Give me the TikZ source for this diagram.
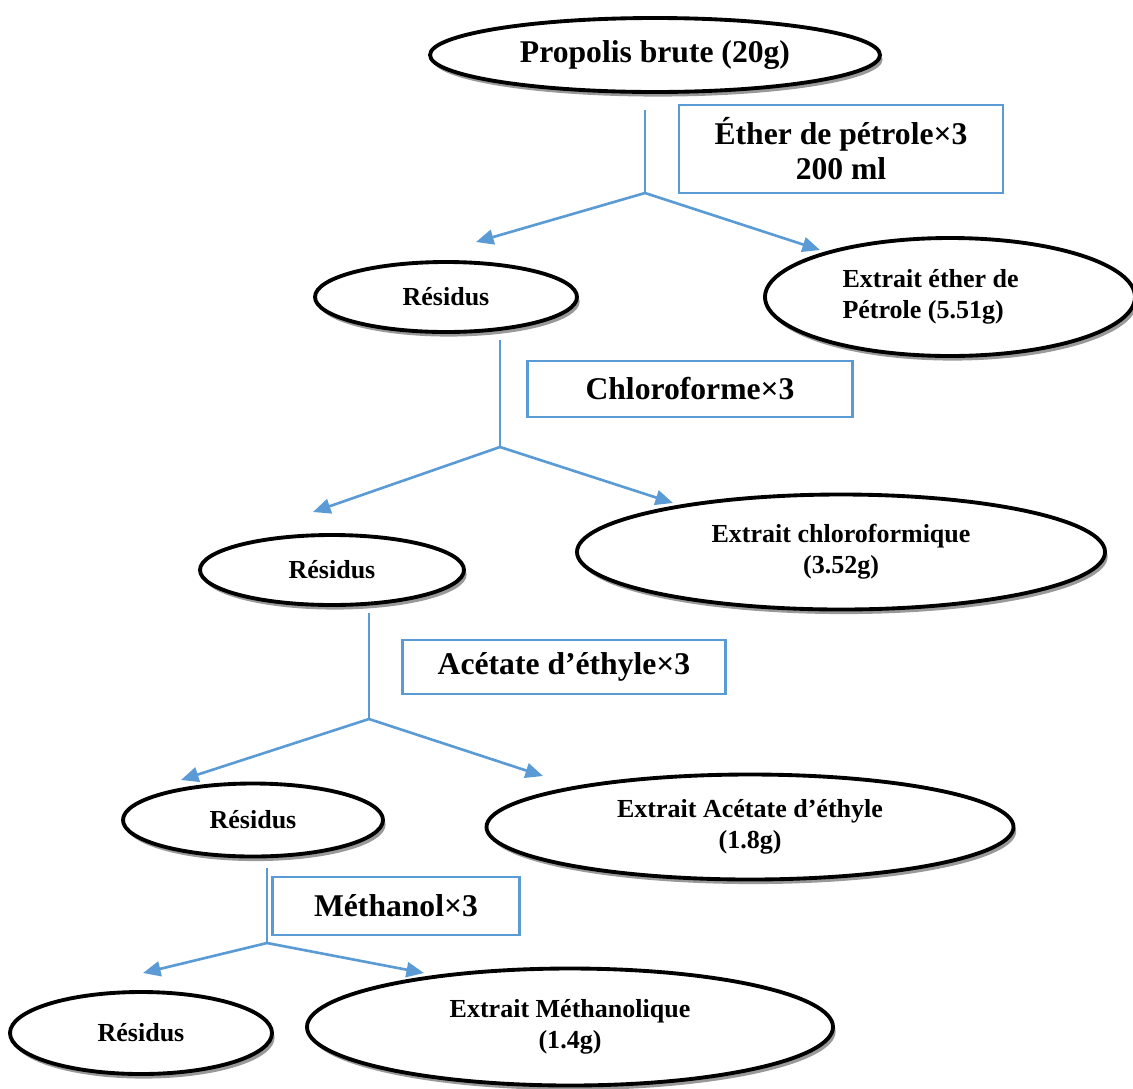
\documentclass[tikz,border=0pt]{standalone}
\usepackage{fontspec}
\setmainfont{Liberation Serif}
\usetikzlibrary{shapes.geometric,shadows,arrows.meta}
\definecolor{flowblue}{RGB}{91,155,213}
\begin{document}
\begin{tikzpicture}[
  ell/.style={ellipse,draw,line width=2.2pt,fill=white,inner sep=0pt,align=center,
    font=\fontsize{14.8}{17.6}\selectfont\bfseries,
    drop shadow={shadow xshift=1.5pt,shadow yshift=-2.6pt,fill=black!40,opacity=1}},
  solv/.style={rectangle,draw=flowblue,line width=1.4pt,inner sep=0pt,align=center,
    font=\fontsize{18}{20}\selectfont\bfseries},
  flow/.style={draw=flowblue,line width=1.5pt,-{Triangle[length=10pt,width=8.5pt]}},
  stem/.style={draw=flowblue,line width=0.6pt}]
\useasboundingbox (0,0) rectangle (22.66,-21.76);
% extraits et residus
\node[ell,minimum width=9cm,minimum height=1.48cm,font=\fontsize{18}{20}\selectfont\bfseries] (p0) at (13.1,-1.1) {Propolis brute (20g)};
\node[ell,minimum width=5.24cm,minimum height=1.4cm] (r1) at (8.92,-5.94) {Résidus};
\node[ell,minimum width=7.4cm,minimum height=2.36cm,text width=4.3cm,align=flush left] (e1) at (19.0,-5.94) {Extrait éther de\\Pétrole (5.51g)};
\node[ell,minimum width=5.28cm,minimum height=1.4cm] (r2) at (6.64,-11.4) {Résidus};
\node[ell,minimum width=10.56cm,minimum height=2.3cm] (e2) at (16.82,-11.04) {Extrait chloroformique\\(3.52g)};
\node[ell,minimum width=5.2cm,minimum height=1.46cm] (r3) at (5.06,-16.4) {Résidus};
\node[ell,minimum width=10.54cm,minimum height=2.1cm] (e3) at (15.0,-16.54) {Extrait Acétate d’éthyle\\(1.8g)};
\node[ell,minimum width=5.24cm,minimum height=1.64cm] (r4) at (2.82,-20.66) {Résidus};
\node[ell,minimum width=10.52cm,minimum height=2.34cm] (e4) at (11.4,-20.54) {Extrait Méthanolique\\(1.4g)};
% solvants
\node[solv,minimum width=6.48cm,minimum height=1.76cm] (b1) at (16.82,-2.98) {Éther de pétrole×3\\200 ml};
\node[solv,minimum width=6.5cm,minimum height=1.12cm] (b2) at (13.8,-7.78) {Chloroforme×3};
\node[solv,minimum width=6.46cm,minimum height=1.08cm] (b3) at (11.28,-13.34) {Acétate d’éthyle×3};
\node[solv,minimum width=4.94cm,minimum height=1.16cm] (b4) at (7.92,-18.12) {Méthanol×3};
% branches
\coordinate (t1) at (12.9,-2.2);
\coordinate (s1) at (12.9,-3.86);
\coordinate (a1) at (9.52,-4.84);
\coordinate (a2) at (16.4,-5.0);
\coordinate (t2) at (10.0,-6.8);
\coordinate (s2) at (10.0,-8.94);
\coordinate (a3) at (6.26,-10.24);
\coordinate (a4) at (13.46,-10.06);
\coordinate (t3) at (7.38,-12.26);
\coordinate (s3) at (7.38,-14.38);
\coordinate (a5) at (3.62,-15.6);
\coordinate (a6) at (10.86,-15.52);
\coordinate (t4) at (5.34,-17.36);
\coordinate (s4) at (5.34,-18.86);
\coordinate (a7) at (2.86,-19.46);
\coordinate (a8) at (8.48,-19.46);
\draw[stem] (t1) -- (s1);
\draw[flow] (s1) -- (a1);
\draw[flow] (s1) -- (a2);
\draw[stem] (t2) -- (s2);
\draw[flow] (s2) -- (a3);
\draw[flow] (s2) -- (a4);
\draw[stem] (t3) -- (s3);
\draw[flow] (s3) -- (a5);
\draw[flow] (s3) -- (a6);
\draw[stem] (t4) -- (s4);
\draw[flow] (s4) -- (a7);
\draw[flow] (s4) -- (a8);
\end{tikzpicture}
\end{document}
